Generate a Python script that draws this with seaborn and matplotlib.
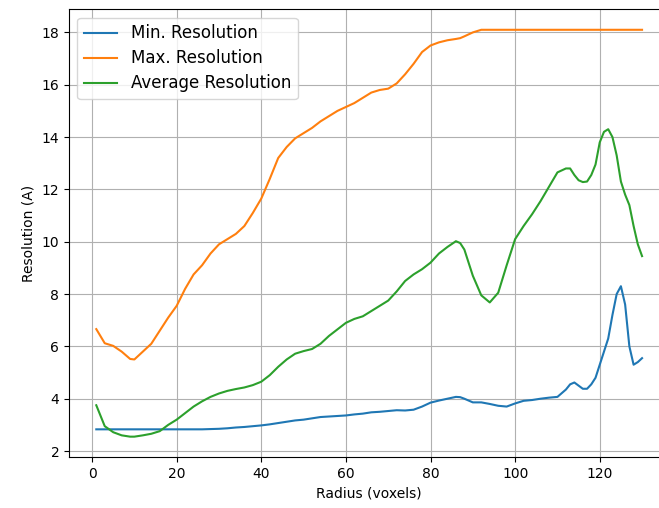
import numpy as np
import pandas as pd
import matplotlib
matplotlib.use("Agg")
import matplotlib.pyplot as plt
import seaborn as sns

# radius samples (voxels)
radius = [1, 3, 5, 7, 9, 10, 12, 14, 16, 18, 20, 22, 24, 26, 28, 30, 32, 34, 36, 38,
          40, 42, 44, 46, 48, 50, 52, 54, 56, 58, 60, 62, 64, 66, 68, 70, 72, 74, 76, 78,
          80, 82, 84, 86, 87, 88, 90, 92, 94, 96, 98, 100, 102, 104, 106, 108, 110, 112,
          113, 114, 115, 116, 117, 118, 119, 120, 121, 122, 123, 124, 125, 126, 127, 128,
          129, 130]

min_res = [2.83, 2.83, 2.83, 2.83, 2.83, 2.83, 2.83, 2.83, 2.83, 2.83, 2.83, 2.83, 2.83,
           2.83, 2.84, 2.85, 2.87, 2.90, 2.92, 2.95, 2.98, 3.02, 3.07, 3.12, 3.17, 3.20,
           3.25, 3.30, 3.32, 3.34, 3.36, 3.40, 3.43, 3.48, 3.50, 3.53, 3.56, 3.55, 3.58,
           3.70, 3.85, 3.93, 4.00, 4.07, 4.06, 4.00, 3.86, 3.86, 3.80, 3.73, 3.70, 3.82,
           3.92, 3.95, 4.00, 4.04, 4.07, 4.35, 4.55, 4.62, 4.50, 4.38, 4.38, 4.55, 4.80,
           5.30, 5.80, 6.30, 7.20, 8.00, 8.30, 7.60, 6.00, 5.30, 5.40, 5.55]

max_res = [6.66, 6.12, 6.02, 5.80, 5.52, 5.50, 5.80, 6.10, 6.60, 7.10, 7.55, 8.20, 8.75,
           9.10, 9.55, 9.90, 10.10, 10.30, 10.60, 11.10, 11.65, 12.40, 13.20, 13.62, 13.95,
           14.15, 14.35, 14.60, 14.80, 15.00, 15.15, 15.30, 15.50, 15.70, 15.80, 15.85,
           16.05, 16.40, 16.80, 17.25, 17.50, 17.62, 17.70, 17.75, 17.78, 17.85, 18.00,
           18.10, 18.10, 18.10, 18.10, 18.10, 18.10, 18.10, 18.10, 18.10, 18.10, 18.10,
           18.10, 18.10, 18.10, 18.10, 18.10, 18.10, 18.10, 18.10, 18.10, 18.10, 18.10,
           18.10, 18.10, 18.10, 18.10, 18.10, 18.10, 18.10]

avg_res = [3.75, 2.95, 2.72, 2.60, 2.55, 2.55, 2.60, 2.66, 2.76, 3.00, 3.20, 3.45, 3.70,
           3.90, 4.07, 4.20, 4.30, 4.37, 4.43, 4.52, 4.65, 4.90, 5.22, 5.50, 5.72, 5.82,
           5.90, 6.10, 6.40, 6.65, 6.90, 7.05, 7.15, 7.35, 7.55, 7.75, 8.10, 8.50, 8.75,
           8.95, 9.20, 9.55, 9.80, 10.02, 9.95, 9.70, 8.70, 7.95, 7.68, 8.05, 9.10, 10.10,
           10.60, 11.05, 11.55, 12.10, 12.65, 12.80, 12.80, 12.55, 12.35, 12.28, 12.30,
           12.55, 12.95, 13.80, 14.20, 14.30, 14.00, 13.30, 12.30, 11.80, 11.40, 10.60,
           9.90, 9.45]

fig = plt.figure(figsize=(6.59, 5.08), dpi=100)
ax = fig.add_axes([0.1047, 0.1004, 0.911, 0.881])

sns.lineplot(x=radius, y=min_res, ax=ax, color="C0", label="Min. Resolution")
sns.lineplot(x=radius, y=max_res, ax=ax, color="C1", label="Max. Resolution")
sns.lineplot(x=radius, y=avg_res, ax=ax, color="C2", label="Average Resolution")

ax.set_xlabel("Radius (voxels)")
ax.set_ylabel("Resolution (A)")
ax.set_yticks([2, 4, 6, 8, 10, 12, 14, 16, 18])
ax.grid(True)
ax.legend(loc="upper left", fontsize=12, labelspacing=0.42)

fig.savefig("out.png", dpi=100)
